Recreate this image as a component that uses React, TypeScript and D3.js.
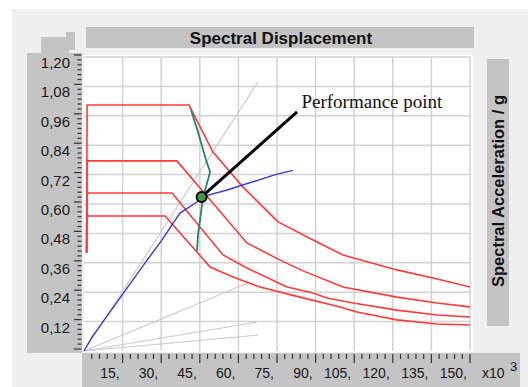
import React from "react";
import * as d3 from "d3";

const W = 528;
const H = 387;

// axis ticks
const xTicks = [15, 30, 45, 60, 75, 90, 105, 120, 135, 150];
const yTicks = [0.12, 0.24, 0.36, 0.48, 0.6, 0.72, 0.84, 0.96, 1.08, 1.2];

// demand spectra (x in 10^3 units, y in g)
const demand1: [number, number][] = [
  [1.0, 0.40], [1.2, 1.004], [40.8, 1.004], [50.1, 0.812], [61.8, 0.669], [75.4, 0.527],
  [89.0, 0.453], [100.6, 0.392], [121.6, 0.331], [137.2, 0.294], [150, 0.261],
];
const demand2: [number, number][] = [
  [1.0, 0.40], [1.2, 0.776], [36.1, 0.776], [49.7, 0.608], [63.3, 0.441], [76.2, 0.371],
  [85.1, 0.327], [100.6, 0.261], [121.6, 0.22], [137.2, 0.196], [150, 0.18],
];
const demand3: [number, number][] = [
  [1.0, 0.40], [1.2, 0.645], [34.2, 0.645], [54.0, 0.392], [63.3, 0.339], [78.9, 0.261],
  [89.0, 0.237], [94.4, 0.216], [104.5, 0.196], [121.6, 0.167], [137.2, 0.147], [150, 0.139],
];
const demand4: [number, number][] = [
  [1.0, 0.40], [1.2, 0.551], [31.5, 0.551], [49.0, 0.343], [57.9, 0.302], [68.4, 0.261],
  [83.9, 0.22], [99.5, 0.18], [106.0, 0.159], [121.6, 0.127], [137.2, 0.11], [150, 0.106],
];

// capacity curve
const capacity: [number, number][] = [
  [0, 0], [3.1, 0.057], [24.5, 0.371], [29.5, 0.441], [37.3, 0.563], [43.9, 0.608],
  [45.9, 0.629], [55.6, 0.657], [75.0, 0.722], [81.2, 0.737],
];

// variable damping locus
const damping: [number, number][] = [
  [41.6, 0.984], [44.3, 0.894], [47.4, 0.78], [49.0, 0.731], [46.2, 0.624],
  [45.1, 0.535], [44.3, 0.473], [43.9, 0.408],
];

// constant-period radial lines (end points from origin)
const periodLines: [number, number][] = [
  [67.6, 1.098], [63.7, 0.278], [67.2, 0.118], [67.6, 0.065],
];

const perfPoint: [number, number] = [45.7, 0.629];
const leaderEnd: [number, number] = [82.8, 0.976];
const perfLabel = "Performance point";
const perfLabelPos: [number, number] = [84.5, 0.992];

const x = d3.scaleLinear().domain([0, 150]).range([84, 470]);
const y = d3.scaleLinear().domain([0, 1.2]).range([351, 57]);

const line = d3
  .line<[number, number]>()
  .x((d) => x(d[0]))
  .y((d) => y(d[1]));

const fmtY = (v: number) => v.toFixed(2).replace(".", ",");

export default function App() {
  const yMinor = d3.range(0, 61).map((i) => i * 0.02);
  const xMinor = d3.range(1, 51).map((i) => i * 3);
  const red = "#ff3b3b";
  const panel = "#c4c4c4";
  const font = "Liberation Sans, Arial, sans-serif";
  return (
    <svg
      width={W}
      height={H}
      style={{ position: "absolute", left: 0, top: 0, display: "block" }}
    >
      <rect x={0} y={0} width={W} height={H} fill="#ffffff" />
      <rect x={12} y={9} width={W - 12} height={H - 9} fill="#f0f0f0" />
      {/* title bar */}
      <rect x={86} y={27} width={388} height={21} fill={panel} />
      <text
        x={281}
        y={44}
        textAnchor="middle"
        fontFamily={font}
        fontWeight="bold"
        fontSize={17}
        fill="#111"
      >
        Spectral Displacement
      </text>
      {/* left panel */}
      <rect x={41} y={37} width={28} height={17} fill={panel} />
      <rect x={66} y={32} width={9} height={18} fill={panel} />
      <rect x={27} y={53} width={55} height={300} fill={panel} />
      {/* bottom panel */}
      <rect x={82} y={353} width={438} height={34} fill={panel} />
      {/* right panel */}
      <rect x={487} y={59} width={22} height={267} fill={panel} />
      <text
        transform="translate(504,191) rotate(-90)"
        textAnchor="middle"
        fontFamily={font}
        fontWeight="bold"
        fontSize={16.5}
        fill="#111"
      >
        Spectral Acceleration / g
      </text>
      {/* plot area */}
      <rect x={84} y={55} width={389} height={297} fill="#ffffff" />
      {xTicks.map((t) => (
        <line
          key={"gx" + t}
          x1={x(t)}
          x2={x(t)}
          y1={y(1.2)}
          y2={y(0)}
          stroke="#d2d2d2"
          strokeWidth={1.5}
        />
      ))}
      {yTicks.map((t) => (
        <line
          key={"gy" + t}
          x1={x(0)}
          x2={x(150)}
          y1={y(t)}
          y2={y(t)}
          stroke="#d2d2d2"
          strokeWidth={1.5}
        />
      ))}
      {/* y ticks */}
      {yMinor.map((t, i) => (
        <line
          key={"ym" + i}
          x1={i % 6 === 0 ? 74 : 77.5}
          x2={81.5}
          y1={y(t) - 2}
          y2={y(t) - 2}
          stroke="#333"
          strokeWidth={1.2}
        />
      ))}
      {yTicks.map((t) => (
        <text
          key={"yl" + t}
          x={70}
          y={y(t) + 11}
          textAnchor="end"
          fontFamily={font}
          fontSize={15}
          fill="#1a1a1a"
        >
          {fmtY(t)}
        </text>
      ))}
      {/* x ticks */}
      {xMinor.map((t, i) => (
        <line
          key={"xm" + i}
          x1={x(t)}
          x2={x(t)}
          y1={354}
          y2={(i + 1) % 5 === 0 ? 363 : 359}
          stroke="#333"
          strokeWidth={1.2}
        />
      ))}
      {xTicks.map((t) => (
        <text
          key={"xl" + t}
          x={x(t) - 3}
          y={378}
          textAnchor="end"
          fontFamily={font}
          fontSize={14}
          fill="#1a1a1a"
        >
          {t + ","}
        </text>
      ))}
      <text x={482} y={378} fontFamily={font} fontSize={14} fill="#1a1a1a">
        x10
      </text>
      <text x={510} y={371} fontFamily={font} fontSize={13} fill="#1a1a1a">
        3
      </text>
      {/* constant period lines */}
      {periodLines.map((p, i) => (
        <line
          key={"pl" + i}
          x1={x(0)}
          y1={y(0)}
          x2={x(p[0])}
          y2={y(p[1])}
          stroke="#c8c8c8"
          strokeWidth={1.1}
        />
      ))}
      {/* demand spectra */}
      {[demand1, demand2, demand3, demand4].map((d, i) => (
        <path
          key={"dm" + i}
          d={line(d) || ""}
          fill="none"
          stroke={red}
          strokeWidth={1.6}
        />
      ))}
      {/* damping locus */}
      <path d={line(damping) || ""} fill="none" stroke="#2f7d70" strokeWidth={1.8} />
      {/* capacity */}
      <path d={line(capacity) || ""} fill="none" stroke="#3b3bd0" strokeWidth={1.4} />
      {/* leader */}
      <line
        x1={x(perfPoint[0])}
        y1={y(perfPoint[1])}
        x2={x(leaderEnd[0])}
        y2={y(leaderEnd[1])}
        stroke="#000"
        strokeWidth={3}
      />
      <circle
        cx={x(perfPoint[0])}
        cy={y(perfPoint[1])}
        r={5}
        fill="#3e9a4c"
        stroke="#000"
        strokeWidth={2}
      />
      <text
        x={x(perfLabelPos[0])}
        y={y(perfLabelPos[1])}
        fontFamily="Liberation Serif, Times New Roman, serif"
        fontSize={19}
        fill="#111"
      >
        {perfLabel}
      </text>
    </svg>
  );
}
